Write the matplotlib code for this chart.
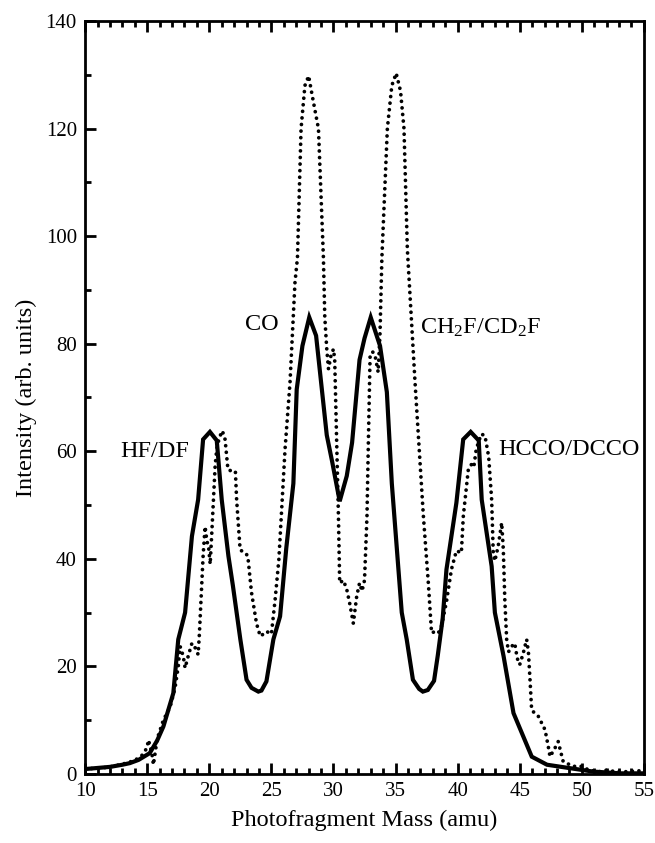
import matplotlib.pyplot as plt
from matplotlib.ticker import MultipleLocator

plt.rcParams["font.family"] = ["Liberation Serif", "DejaVu Serif"]
plt.rcParams["mathtext.fontset"] = "custom"
plt.rcParams["mathtext.rm"] = "Liberation Serif"
plt.rcParams["mathtext.it"] = "Liberation Serif:italic"

# solid trace
solid_mass = [10.0, 11.0, 12.0, 13.0, 13.6, 14.3, 15.2, 15.8, 16.3, 17.1,
              17.5, 18.05, 18.6, 19.1, 19.5, 20.05, 20.6, 21.0, 21.54, 21.9,
              22.5, 23.0, 23.4, 23.95, 24.2, 24.6, 25.16, 25.7, 26.2, 26.77,
              27.04, 27.5, 28.05, 28.6, 29.46, 29.9, 30.5, 31.07, 31.5, 32.1,
              32.5, 33.0, 33.75, 34.3, 34.7, 35.5, 35.9, 36.4, 36.9, 37.2,
              37.6, 38.1, 38.4, 38.8, 39.1, 39.9, 40.45, 41.05, 41.7, 41.94,
              42.74, 43.0, 43.7, 44.5, 45.97, 47.2, 49.05, 50.9, 53.1, 55.0]
solid_int = [0.9, 1.1, 1.3, 1.7, 2.0, 2.6, 3.85, 6.2, 8.8, 15.0,
             25.0, 30.0, 44.2, 51.0, 62.2, 63.6, 62.0, 51.0, 40.5, 35.0,
             25.0, 17.5, 16.0, 15.3, 15.5, 17.2, 25.0, 29.3, 42.0, 54.0,
             71.5, 79.6, 84.9, 81.5, 63.0, 58.0, 50.7, 55.4, 61.6, 77.0,
             81.0, 84.9, 79.6, 71.0, 54.0, 30.0, 25.0, 17.5, 15.8, 15.3,
             15.6, 17.3, 22.0, 29.0, 38.0, 50.4, 62.2, 63.6, 62.0, 51.0,
             38.6, 30.0, 21.9, 11.3, 3.2, 1.7, 1.06, 0.43, 0.1, 0.1]

# dotted trace
dot_mass = [10.0, 11.0, 12.0, 13.0, 14.0, 14.6, 14.97, 15.1, 15.37, 15.5,
            15.8, 16.3, 16.84, 17.24, 17.5, 17.65, 17.9, 18.05, 18.3, 18.6,
            18.85, 19.1, 19.2, 19.4, 19.5, 19.66, 19.8, 19.95, 20.07, 20.2,
            20.33, 20.47, 20.6, 20.8, 21.05, 21.27, 21.5, 21.8, 22.1, 22.2,
            22.48, 22.7, 22.9, 23.1, 23.4, 23.8, 24.1, 24.35, 24.6, 25.0,
            25.3, 25.6, 26.1, 26.5, 26.9, 27.1, 27.39, 27.7, 28.0, 28.3,
            28.79, 29.19, 29.3, 29.46, 29.6, 29.8, 30.0, 30.1, 30.26, 30.4,
            30.5, 30.8, 31.07, 31.3, 31.6, 31.87, 32.1, 32.3, 32.5, 32.7,
            32.8, 32.95, 33.15, 33.35, 33.6, 33.75, 33.9, 34.34, 34.7, 35.05,
            35.4, 35.68, 35.95, 36.57, 37.24, 37.64, 37.9, 38.2, 38.45, 38.7,
            39.1, 39.5, 39.9, 40.3, 40.46, 40.86, 41.1, 41.3, 41.5, 41.9,
            42.2, 42.5, 42.74, 42.87, 43.0, 43.27, 43.55, 43.68, 43.8, 43.95,
            44.1, 44.35, 44.6, 44.8, 45.0, 45.28, 45.56, 45.7, 45.83, 45.96,
            46.2, 46.5, 47.04, 47.3, 47.44, 47.84, 48.1, 48.5, 49.3, 50.1,
            50.5, 51.4, 51.9, 52.5, 53.6, 54.5, 55.0]
dot_int = [1.0, 1.0, 1.3, 1.8, 2.5, 3.5, 4.8, 6.3, 3.85, 1.7,
           6.5, 10.0, 12.4, 16.0, 20.0, 23.7, 21.9, 19.7, 21.9, 24.3,
           23.5, 22.2, 26.0, 35.5, 40.5, 46.0, 43.4, 42.0, 39.0, 44.8,
           51.0, 57.3, 60.4, 62.5, 63.8, 62.2, 56.6, 56.3, 56.3, 51.0,
           41.7, 41.3, 41.1, 40.5, 33.7, 28.0, 25.6, 26.0, 26.5, 26.0,
           32.4, 39.8, 60.4, 72.8, 91.4, 96.0, 120.0, 128.0, 129.8, 126.0,
           120.0, 96.0, 85.0, 79.0, 75.3, 77.8, 79.0, 77.0, 61.6, 48.0,
           35.5, 36.0, 34.3, 31.8, 28.0, 33.0, 35.5, 34.0, 36.0, 48.0,
           60.4, 77.8, 78.5, 77.8, 74.7, 82.0, 96.0, 120.0, 128.0, 130.3,
           127.0, 120.0, 97.6, 72.8, 48.0, 35.5, 26.2, 26.5, 26.2, 27.5,
           32.0, 38.0, 41.5, 41.1, 48.0, 56.6, 57.5, 57.0, 60.4, 63.2,
           62.9, 59.0, 51.0, 41.1, 39.6, 42.4, 46.7, 41.7, 32.4, 25.0,
           22.7, 23.7, 24.3, 21.5, 20.3, 22.4, 25.0, 22.7, 17.5, 11.9,
           11.3, 10.7, 8.2, 5.1, 3.2, 4.8, 6.0, 2.3, 1.4, 1.4,
           0.75, 0.4, 0.7, 0.5, 0.4, 0.6, 0.4]

labels = ["HF/DF", "CO", r"CH$_2$F/CD$_2$F", "HCCO/DCCO"]
label_x = [18.4, 22.9, 37.0, 43.3]
label_y = [60.0, 83.5, 83.0, 60.4]
label_ha = ["right", "left", "left", "left"]

fig = plt.figure(figsize=(6.55, 8.43), dpi=100)
ax = fig.add_axes([0.130, 0.082, 0.853, 0.893])

ax.plot(dot_mass, dot_int, color="black", linewidth=2.7,
        linestyle=(0, (0.01, 1.75)), dash_capstyle="round")
ax.plot(solid_mass, solid_int, color="black", linewidth=3.0,
        solid_joinstyle="miter")

for txt, tx, ty, ha in zip(labels, label_x, label_y, label_ha):
  ax.text(tx, ty, txt, fontsize=17.5, ha=ha, va="center")

ax.set_xlim(10, 55)
ax.set_ylim(0, 140)
ax.xaxis.set_major_locator(MultipleLocator(5))
ax.xaxis.set_minor_locator(MultipleLocator(1))
ax.yaxis.set_major_locator(MultipleLocator(20))
ax.yaxis.set_minor_locator(MultipleLocator(10))
ax.tick_params(which="both", direction="in", top=True, right=False,
               width=2, labelsize=15)
ax.tick_params(which="major", length=8, pad=6)
ax.tick_params(which="minor", length=4)
for sp in ax.spines.values():
  sp.set_linewidth(2)

ax.set_xlabel("Photofragment Mass (amu)", fontsize=17.5, labelpad=6)
ax.set_ylabel("Intensity (arb. units)", fontsize=17.5, labelpad=6)

fig.savefig("out.png", dpi=100)
